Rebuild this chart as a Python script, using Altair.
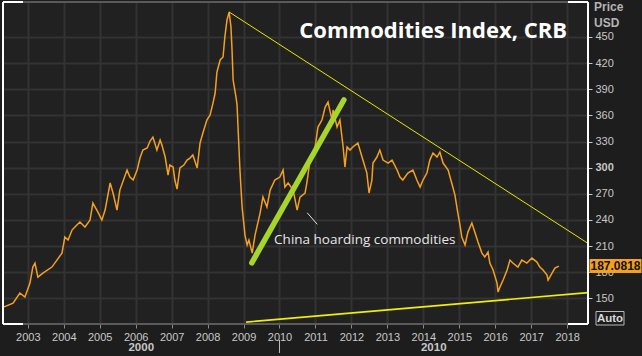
import altair as alt
import pandas as pd

# ---------------- data ----------------
years = [2002.34, 2002.59, 2002.78, 2002.92,
         2003.06, 2003.14, 2003.20, 2003.28, 2003.42, 2003.67, 2003.81, 2003.95,
         2004.03, 2004.12, 2004.23, 2004.31, 2004.45, 2004.59, 2004.73, 2004.81, 2004.95,
         2005.06, 2005.15, 2005.29, 2005.37, 2005.48, 2005.56, 2005.76, 2005.84, 2005.93,
         2006.04, 2006.12, 2006.20, 2006.32, 2006.40, 2006.48, 2006.59, 2006.68, 2006.73, 2006.82, 2006.90, 2006.95,
         2007.04, 2007.09, 2007.15, 2007.23, 2007.34, 2007.43, 2007.51, 2007.59, 2007.71, 2007.79, 2007.87, 2007.98,
         2008.07, 2008.15, 2008.21, 2008.26, 2008.35, 2008.43, 2008.48, 2008.54, 2008.60, 2008.65, 2008.68, 2008.71,
         2008.79, 2008.82, 2008.85, 2008.90, 2008.96,
         2009.04, 2009.10, 2009.15, 2009.24, 2009.32, 2009.46, 2009.54, 2009.65, 2009.74, 2009.87,
         2010.01, 2010.10, 2010.15, 2010.24, 2010.38, 2010.49, 2010.57, 2010.71, 2010.76, 2010.85, 2010.99,
         2011.07, 2011.18, 2011.27, 2011.35, 2011.46, 2011.49, 2011.60, 2011.68, 2011.77, 2011.82, 2011.88, 2011.96,
         2012.04, 2012.18, 2012.32, 2012.43, 2012.49, 2012.57, 2012.60, 2012.71, 2012.79, 2012.88,
         2013.02, 2013.13, 2013.27, 2013.35, 2013.43, 2013.57, 2013.71, 2013.82, 2013.91, 2013.99,
         2014.10, 2014.18, 2014.27, 2014.38, 2014.46, 2014.55, 2014.69, 2014.82, 2014.88, 2014.96,
         2015.02, 2015.07, 2015.16, 2015.24, 2015.35, 2015.44, 2015.52, 2015.63, 2015.71, 2015.80, 2015.85, 2015.94,
         2016.05, 2016.08, 2016.13, 2016.22, 2016.33, 2016.41, 2016.49, 2016.63, 2016.74, 2016.88,
         2017.02, 2017.16, 2017.24, 2017.33, 2017.44, 2017.47, 2017.58, 2017.66, 2017.77]

crb = [140.4, 144.7, 156.2, 151.6,
       167.6, 186.0, 190.6, 174.5, 179.1, 186.0, 194.0, 202.0,
       220.4, 217.0, 228.4, 231.9, 237.6, 231.9, 239.9, 259.4, 249.1,
       239.9, 251.4, 282.4, 270.9, 251.4, 274.3, 297.3, 289.2, 285.8,
       297.3, 311.0, 320.2, 322.5, 330.5, 335.1, 320.2, 331.7, 325.9, 312.2, 291.5, 303.0,
       300.7, 285.8, 275.5, 299.6, 303.0, 308.7, 311.0, 314.5, 299.6, 328.2, 339.7, 354.6,
       360.4, 374.1, 385.6, 409.7, 423.5, 426.9, 449.8, 469.4, 478.5, 461.3, 434.9, 400.5,
       381.0, 371.8, 343.2, 297.3, 254.8,
       222.7, 211.2, 217.0, 202.0, 222.7, 247.9, 266.3, 254.8, 274.3, 285.8,
       289.2, 297.3, 277.8, 282.4, 274.3, 251.4, 266.3, 270.9, 282.4, 308.7, 323.7,
       346.6, 354.6, 369.5, 375.3, 354.6, 366.1, 346.6, 354.6, 323.7, 300.7, 323.7, 320.2,
       323.7, 328.2, 308.7, 293.8, 270.9, 285.8, 305.3, 312.2, 320.2, 308.7,
       305.3, 308.7, 297.3, 289.2, 285.8, 293.8, 297.3, 285.8, 277.8, 285.8,
       293.8, 308.7, 316.8, 312.2, 317.9, 305.3, 297.3, 277.8, 268.6, 247.9,
       234.2, 220.4, 211.2, 226.1, 236.5, 225.0, 214.7, 202.0, 197.5, 203.2, 190.6, 182.6,
       167.6, 157.3, 163.0, 171.1, 182.6, 194.0, 190.6, 186.0, 194.0, 190.6,
       196.3, 191.7, 186.0, 182.6, 176.8, 171.1, 179.1, 184.8, 187.0818]

last_value = 187.0818

upper_trend_years = [2008.60, 2018.58]
upper_trend_values = [478.5, 213.2]
lower_trend_years = [2009.07, 2018.58]
lower_trend_values = [122.9, 156.7]
china_line_years = [2009.23, 2011.79]
china_line_values = [190.9, 377.6]
pointer_years = [2010.77, 2011.05]
pointer_values = [248.3, 235.0]
annotation_text = ["China hoarding commodities"]
annotation_year = [2009.85]
annotation_value = [217.0]

x_tick_years = list(range(2003, 2019))
y_ticks = list(range(150, 451, 30))
decade_labels = ["2000", "2010"]
decade_centers = [2006.155, 2014.29]
decade_boundary = [2010]

title_text = ["Commodities Index, CRB"]
unit_lines = ["Price", "USD"]

# ---------------- layout / style ----------------
W, H = 585, 322
X_DOMAIN = [2002.31, 2018.58]
Y_DOMAIN = [120.7, 490.0]
ORANGE = "#f5a01e"
LABEL = "#c8c8c8"
GRID = "#333333"
FONT = "Liberation Sans"

xs = alt.Scale(domain=X_DOMAIN, nice=False, zero=False)
ys = alt.Scale(domain=Y_DOMAIN, nice=False, zero=False)

x_axis = alt.Axis(values=x_tick_years, format="d", grid=True, gridColor=GRID, gridWidth=2,
                  domain=False, ticks=True, tickColor="#8a8a8a", tickSize=4,
                  labelColor=LABEL, labelFont=FONT, labelFontSize=11, labelPadding=3,
                  labelOverlap=False, labelFlush=False, title=None)
y_axis = alt.Axis(orient="right", values=y_ticks, grid=True, gridColor=GRID, gridWidth=2,
                  domain=False, ticks=True, tickColor=LABEL, tickSize=4,
                  labelColor=LABEL, labelFont=FONT, labelFontSize=11, labelPadding=3,
                  labelOverlap=False, labelFlush=False, title=None,
                  labelFontWeight={"condition": {"test": "datum.value == 300", "value": "bold"},
                                   "value": "normal"})


def X(field="year"):
    return alt.X(f"{field}:Q", scale=xs, axis=x_axis)


def Y(field="value"):
    return alt.Y(f"{field}:Q", scale=ys, axis=y_axis)


df = pd.DataFrame({"year": years, "value": crb})

main = alt.Chart(df).mark_line(color=ORANGE, strokeWidth=1.5).encode(x=X(), y=Y())


def seg(yrs, vals, **mark):
    d = pd.DataFrame({"year": yrs, "value": vals})
    return alt.Chart(d).mark_line(**mark).encode(x=X(), y=Y())


upper = seg(upper_trend_years, upper_trend_values, color="#e6e600", strokeWidth=1)
lower = seg(lower_trend_years, lower_trend_values, color="#f0f000", strokeWidth=1.6)
green = seg(china_line_years, china_line_values, color="#a6d62c", strokeWidth=5.5, strokeCap="round")
pointer = seg(pointer_years, pointer_values, color="#e0e0e0", strokeWidth=1)

annot = alt.Chart(pd.DataFrame({"year": annotation_year, "value": annotation_value,
                                "t": annotation_text})).mark_text(
    align="left", baseline="middle", font="Open Sans", fontSize=13.5, color="#e6e6e6"
).encode(x=X(), y=Y(), text="t:N")

one = pd.DataFrame({"k": [0]})

title = alt.Chart(pd.DataFrame({"t": title_text})).mark_text(
    align="right", baseline="alphabetic", font="Open Sans", fontSize=22, fontWeight="bold", color="#ffffff"
).encode(x=alt.value(564), y=alt.value(35.5), text="t:N")


def hrule(x1, x2, y, color, w=1.5):
    return alt.Chart(one).mark_rule(color=color, strokeWidth=w).encode(
        x=alt.value(x1), x2=alt.value(x2), y=alt.value(y))


def vrule(x, y1, y2, color, w=1.5):
    return alt.Chart(one).mark_rule(color=color, strokeWidth=w).encode(
        x=alt.value(x), y=alt.value(y1), y2=alt.value(y2))


frame = [
    hrule(0, W, 0, "#5a5a5a", 2), hrule(0, W, H, "#5a5a5a", 2),
    hrule(0, 20, 0, "#ffffff", 2), hrule(W - 20, W, 0, "#ffffff", 2),
    hrule(0, 20, H, "#ffffff", 2), hrule(W - 20, W, H, "#ffffff", 2),
    vrule(0, 0, H, "#ffffff", 2), vrule(W, 0, H, "#ffffff", 2),
]


def unit_text(t, ypix):
    return alt.Chart(pd.DataFrame({"t": [t]})).mark_text(
        align="left", baseline="middle", font=FONT, fontSize=12, fontWeight="bold", color="#b4b4b4"
    ).encode(x=alt.value(591), y=alt.value(ypix), text="t:N")


price_lbl = unit_text(unit_lines[0], 5.3)
usd_lbl = unit_text(unit_lines[1], 20.5)

auto_box = alt.Chart(one).mark_rect(fill="#1c1c1c", stroke="#b8b8b8", strokeWidth=1).encode(
    x=alt.value(593), x2=alt.value(621), y=alt.value(309.5), y2=alt.value(323))
auto_txt = alt.Chart(pd.DataFrame({"t": ["Auto"]})).mark_text(
    align="center", baseline="middle", font=FONT, fontSize=11.5, fontWeight="bold", color="#d8d8d8"
).encode(x=alt.value(607), y=alt.value(316.5), text="t:N")

last_df = pd.DataFrame({"value": [last_value]})
last_box = alt.Chart(last_df).mark_tick(color=ORANGE, orient="horizontal", thickness=14, size=52, opacity=1).encode(
    x=alt.value(612.5), y=Y())
last_txt = alt.Chart(last_df).mark_text(
    align="center", baseline="middle", font=FONT, fontSize=12, fontWeight="bold", color="#111111"
).encode(x=alt.value(612.5), y=Y(), text=alt.Text("value:Q", format=".4f"))

decades = alt.Chart(pd.DataFrame({"year": decade_centers, "t": decade_labels})).mark_text(
    align="center", baseline="middle", font=FONT, fontSize=11.5, fontWeight="bold", color=LABEL
).encode(x=X(), y=alt.value(346), text="t:N")
sep = alt.Chart(pd.DataFrame({"year": decade_boundary})).mark_rule(color="#c0c0c0", strokeWidth=1).encode(
    x=X(), y=alt.value(338), y2=alt.value(351))

chart = alt.layer(
    main, upper, lower, green, pointer, annot, title, *frame,
    price_lbl, usd_lbl, auto_box, auto_txt, last_box, last_txt, decades, sep,
).properties(
    width=W, height=H,
    autosize=alt.AutoSizeParams(type="none"),
    padding={"left": 3, "top": 2, "right": 54, "bottom": 32},
    background="#1d1d1d",
).configure_view(stroke=None, fill="#212121")

chart.save("out.html", embed_options={"renderer": "svg", "actions": False})
